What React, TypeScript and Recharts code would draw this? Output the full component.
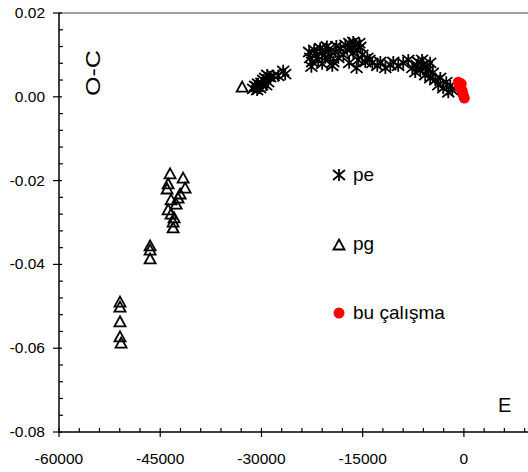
import { ScatterChart, Scatter, XAxis, YAxis, ReferenceLine, Legend } from "recharts";

// O-C values
const peE = [
  -31230, -30935, -30640, -30490, -30200, -29900, -29750, -29450, -29150, -29000, -28700, -27520,
  -26780, -26480, -22930, -22780, -22480, -22180, -21880, -21590, -21290, -20990, -20540, -20100,
  -19800, -19350, -19060, -18610, -18320, -17870, -17570, -17280, -16980, -16680, -16390, -16090,
  -15790, -15640, -15350, -15050, -14610, -14310, -13570, -12830, -12380, -11640, -10900, -10460,
  -9730, -8990, -8240, -7650, -7200, -6760, -6470, -6020, -5730, -5280, -4990, -4240, -3800, -3500,
  -3060, -2610, -2310, -2020, -1720, -22600, -21000, -19500, -17000, -15900, -14000, -20300,
  -18900, -16400, -15500, -7000, -6200, -5500, -4600, -5000, -30700, -30000, -29300, -28200,
];
const peOC = [
  0.0019, 0.0026, 0.0016, 0.0031, 0.0021, 0.0028, 0.004, 0.0045, 0.0052, 0.0035, 0.0047, 0.005,
  0.0062, 0.0054, 0.0107, 0.0093, 0.0083, 0.0112, 0.01, 0.0088, 0.0116, 0.0105, 0.0093, 0.0112,
  0.0097, 0.0083, 0.0107, 0.0093, 0.0116, 0.01, 0.0124, 0.0112, 0.0128, 0.0116, 0.0105, 0.0124,
  0.0112, 0.0088, 0.0119, 0.01, 0.0083, 0.0093, 0.0081, 0.0074, 0.0083, 0.0069, 0.0076, 0.0083,
  0.0074, 0.0081, 0.0088, 0.0069, 0.0059, 0.0083, 0.0064, 0.0076, 0.0052, 0.0064, 0.0045, 0.004,
  0.0028, 0.0045, 0.0021, 0.0035, 0.0011, 0.0026, 0.0016, 0.0072, 0.0079, 0.0074, 0.0081, 0.0069,
  0.0088, 0.012, 0.0121, 0.0131, 0.0128, 0.0076, 0.0088, 0.0071, 0.0057, 0.0081, 0.0024, 0.0033,
  0.0028, 0.005,
];

const pgE = [
  -50960, -50960, -50960, -50960, -50800, -46500, -46500, -46500, -43540, -41610, -43830, -41310,
  -43980, -42050, -43390, -43830, -43390, -43090, -43090, -42640, -42940, -42350, -32860,
];
const pgOC = [
  -0.049, -0.0502, -0.0537, -0.0573, -0.0588, -0.0356, -0.0366, -0.0387, -0.0184, -0.0194, -0.0208,
  -0.0218, -0.022, -0.0232, -0.0246, -0.027, -0.028, -0.0299, -0.0313, -0.0256, -0.0289, -0.0242,
  0.0023,
];

const buE = [-830, -680, -530, -390, -240, -90, 60];
const buOC = [0.0035, 0.0028, 0.0021, 0.0031, 0.0014, 0.0004, -0.0003];

const xTicks = [
  -60000, -57000, -54000, -51000, -48000, -45000, -42000, -39000, -36000, -33000, -30000, -27000,
  -24000, -21000, -18000, -15000, -12000, -9000, -6000, -3000, 0, 3000, 6000, 9000,
];
const yTicks = [
  0.02, 0.016, 0.012, 0.008, 0.004, 0, -0.004, -0.008, -0.012, -0.016, -0.02, -0.024, -0.028,
  -0.032, -0.036, -0.04, -0.044, -0.048, -0.052, -0.056, -0.06, -0.064, -0.068, -0.072, -0.076,
  -0.08,
];

const font = "'Liberation Sans', Arial, sans-serif";

const toPoints = (xs: number[], ys: number[]) => xs.map((x, i) => ({ x, y: ys[i] }));
const peData = toPoints(peE, peOC);
const pgData = toPoints(pgE, pgOC);
const buData = toPoints(buE, buOC);

function Asterisk({ cx, cy }: any) {
  return (
    <path
      d={`M${cx},${cy - 6}L${cx},${cy + 6}M${cx - 6},${cy - 5}L${cx + 6},${cy + 5}M${cx - 6},${cy + 5}L${cx + 6},${cy - 5}`}
      stroke="#000"
      strokeWidth={1.8}
      fill="none"
    />
  );
}

function Triangle({ cx, cy }: any) {
  return (
    <path
      d={`M${cx},${cy - 5.5}L${cx + 5.5},${cy + 4.5}L${cx - 5.5},${cy + 4.5}Z`}
      stroke="#000"
      strokeWidth={1.8}
      fill="none"
    />
  );
}

function Dot({ cx, cy }: any) {
  return <circle cx={cx} cy={cy} r={5.5} fill="#ff0000" />;
}

function XTick({ x, y, payload }: any) {
  const v = payload.value;
  const major = v % 15000 === 0;
  return (
    <g>
      <line x1={x} x2={x} y1={y - 4} y2={major ? y + 5 : y} stroke="#000" strokeWidth={1.2} />
      {major && (
        <text x={x} y={y + 32} textAnchor="middle" fontSize={15.5} fontFamily={font} fill="#000">
          {v}
        </text>
      )}
    </g>
  );
}

function YTick({ x, y, payload }: any) {
  const v = payload.value;
  const major = Math.abs(v * 50 - Math.round(v * 50)) < 1e-6;
  return (
    <g>
      <line x1={major ? x - 6 : x} x2={major ? x + 3 : x + 4} y1={y} y2={y} stroke="#000" strokeWidth={1.2} />
      {major && (
        <text x={x - 14} y={y + 5} textAnchor="end" fontSize={15.5} fontFamily={font} fill="#000">
          {v.toFixed(2)}
        </text>
      )}
    </g>
  );
}

const legendRows = [
  { name: "pe", icon: "pe" },
  { name: "pg", icon: "pg" },
  { name: "bu çalışma", icon: "bu" },
];

function LegendBox() {
  return (
    <div style={{ fontFamily: font, fontSize: 19, color: "#000" }}>
      {legendRows.map((r) => (
        <div key={r.name} style={{ height: 69, display: "flex", alignItems: "center" }}>
          <svg width={20} height={20} style={{ marginRight: 3 }}>
            {r.icon === "pe" && <Asterisk cx={9} cy={10} />}
            {r.icon === "pg" && <Triangle cx={9} cy={11} />}
            {r.icon === "bu" && <Dot cx={9} cy={10} />}
          </svg>
          <span>{r.name}</span>
        </div>
      ))}
    </div>
  );
}

export default function App() {
  return (
    <div style={{ position: "fixed", left: 0, top: 0, background: "#fff" }}>
      <ScatterChart width={528} height={472} margin={{ top: 13, right: 0, bottom: 0, left: 0 }}>
        <XAxis
          type="number"
          dataKey="x"
          domain={[-60000, 9500]}
          ticks={xTicks}
          interval={0}
          allowDataOverflow
          height={40}
          tickSize={0}
          tickMargin={0}
          tickLine={false}
          axisLine={{ stroke: "#000", strokeWidth: 1.5 }}
          tick={XTick}
        />
        <YAxis
          type="number"
          dataKey="y"
          domain={[-0.08, 0.02]}
          ticks={yTicks}
          interval={0}
          allowDataOverflow
          width={59}
          tickSize={0}
          tickMargin={0}
          tickLine={false}
          axisLine={{ stroke: "#000", strokeWidth: 1.5 }}
          tick={YTick}
        />
        <ReferenceLine y={0.02} stroke="#a0a0a0" strokeWidth={2} />
        <Scatter name="pg" data={pgData} shape={Triangle} isAnimationActive={false} />
        <Scatter name="pe" data={peData} shape={Asterisk} isAnimationActive={false} />
        <Scatter name="bu çalışma" data={buData} shape={Dot} isAnimationActive={false} />
        <Legend
          layout="vertical"
          align="center"
          verticalAlign="middle"
          wrapperStyle={{ left: 330, top: 140, width: 170 }}
          content={LegendBox}
        />
        <text
          x={100}
          y={73}
          transform="rotate(-90 100 73)"
          textAnchor="middle"
          fontSize={21}
          fontFamily={font}
          textLength={46}
          lengthAdjust="spacingAndGlyphs"
        >
          O-C
        </text>
        <text x={498} y={412} fontSize={20} fontFamily={font}>
          E
        </text>
      </ScatterChart>
    </div>
  );
}
